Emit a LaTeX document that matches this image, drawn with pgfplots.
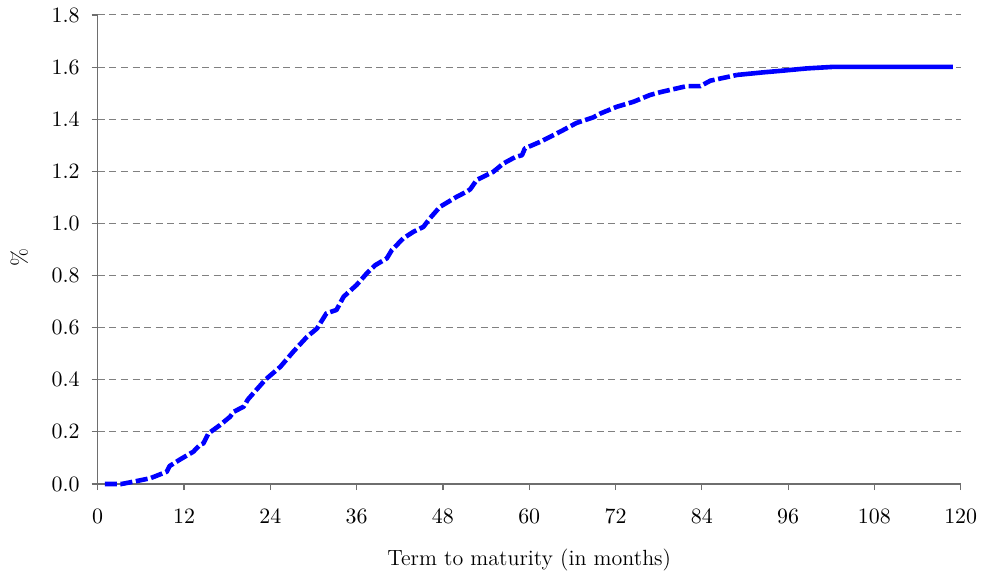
\documentclass[border=0pt]{standalone}
\usepackage{pgfplots}
\pgfplotsset{compat=1.18}
\definecolor{gridgray}{RGB}{128,128,128}
\definecolor{axgray}{RGB}{110,110,110}
\definecolor{curveblue}{RGB}{0,0,255}
\begin{document}
\begin{tikzpicture}
\begin{axis}[
  name=ax,
  scale only axis,
  width=431.5pt, height=234.5pt,
  xmin=0, xmax=120, ymin=0, ymax=1.8,
  axis lines=left,
  axis line style={-, axgray, line width=0.6pt},
  xtick={0,12,...,120},
  ytick={0,0.2,...,1.8},
  tick align=outside,
  major tick length=3pt,
  tick style={axgray, line width=0.6pt},
  yticklabel style={/pgf/number format/fixed, /pgf/number format/precision=1, /pgf/number format/fixed zerofill, xshift=-2.5pt},
  xticklabel style={yshift=-6pt},
  ticklabel style={font=\fontsize{11}{13}\selectfont},
  ymajorgrids,
  grid style={gridgray, line width=0.5pt, dash pattern=on 3.5pt off 2.3pt},
  xlabel={Term to maturity (in months)},
  ylabel={\%},
  label style={font=\fontsize{11}{13}\selectfont},
  xlabel style={at={(axis description cs:0.5,-0.162)}, anchor=center},
  ylabel style={at={(axis description cs:-0.091,0.482)}, anchor=center},
  clip=false,
]
\addplot[curveblue, line width=2.3pt, dash pattern=on 6pt off 1.8pt, line join=round] coordinates {
(1.0,0) (3.3,0) (5.0,0.009) (7.3,0.022) (9.6,0.047) (10.0,0.069) (11.5,0.095)
(13.3,0.124) (14.2,0.15) (14.7,0.156) (15.4,0.194) (17.0,0.226) (18.4,0.258)
(18.9,0.277) (20.3,0.297) (20.9,0.325) (23.3,0.40) (25.4,0.45) (27.2,0.508)
(29.1,0.565) (30.5,0.597) (31.8,0.655) (33.2,0.668) (34.2,0.719) (36.0,0.764)
(37.4,0.808) (38.6,0.84) (40.2,0.866) (40.9,0.898) (42.5,0.943) (43.9,0.968)
(45.3,0.987) (46.2,1.02) (47.6,1.064) (49.9,1.102) (51.3,1.122) (51.8,1.131)
(52.7,1.167) (55.0,1.198) (56.4,1.23) (58.0,1.254) (59.0,1.262) (59.4,1.288)
(61.5,1.313) (64.3,1.352) (66.6,1.386) (68.9,1.407) (69.9,1.422) (72.2,1.448)
(74.5,1.467) (76.8,1.493) (78.4,1.505) (81.9,1.527) (83.8,1.527) (85.2,1.548)
(88.9,1.57)
};
\addplot[curveblue, line width=2.3pt, line join=round] coordinates {
(88.9,1.57) (92.6,1.58) (95.1,1.586) (98.6,1.595) (102.3,1.601) (118.9,1.601)
};
\end{axis}
\pgfresetboundingbox
\path ([shift={(-48.85pt,-47pt)}]ax.south west) rectangle ([shift={(10.65pt,7.5pt)}]ax.north east);
\end{tikzpicture}
\end{document}
